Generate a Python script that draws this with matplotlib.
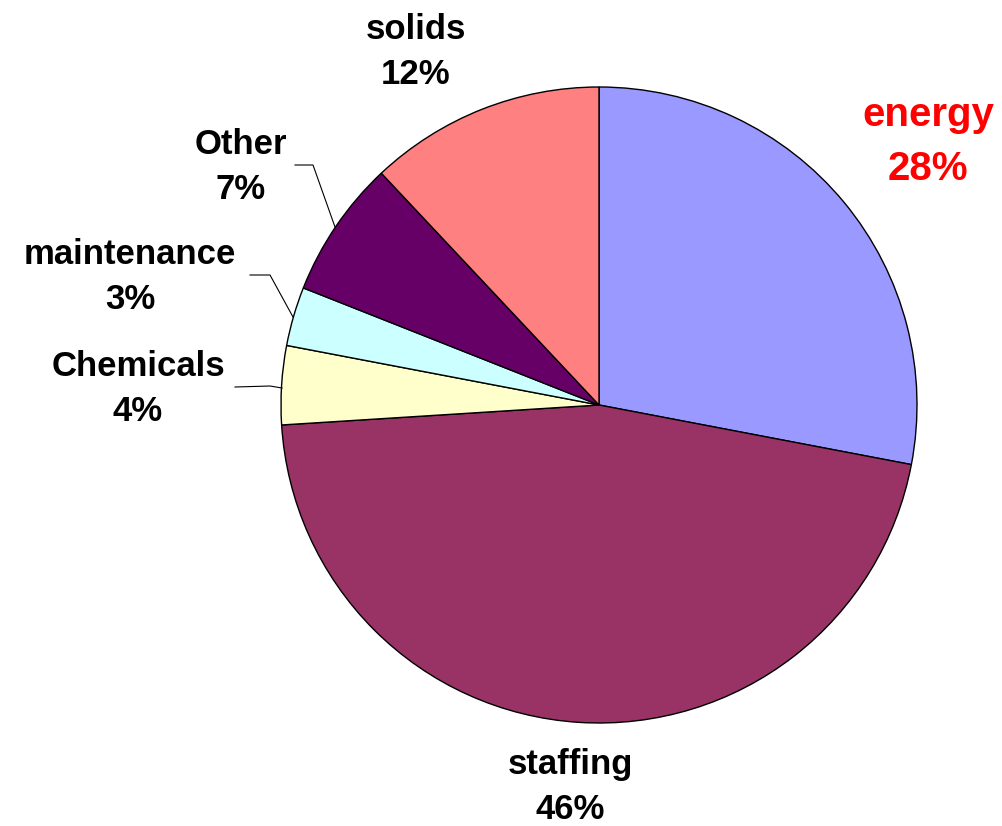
import matplotlib
matplotlib.use('Agg')
import matplotlib.pyplot as plt

# data
labels = ['energy', 'staffing', 'Chemicals', 'maintenance', 'Other', 'solids']
shares = [28, 46, 4, 3, 7, 12]
colors = ['#9999FF', '#993366', '#FFFFCC', '#CCFFFF', '#660066', '#FF8080']

plt.rcParams['font.family'] = ['Liberation Sans', 'DejaVu Sans']

W, H = 1002, 826
fig = plt.figure(figsize=(W / 100, H / 100), dpi=100)
ax = fig.add_axes([0, 0, 1, 1])

# pie, centre and radius in pixel units
ax.pie(shares, colors=colors, startangle=90, counterclock=False,
       center=(599, H - 405), radius=318,
       wedgeprops=dict(edgecolor='black', linewidth=1))

ax.set_xlim(0, W)
ax.set_ylim(0, H)
ax.set_aspect('equal')
ax.axis('off')

# label positions (pixel coords from top-left)
label_pos = {
    'energy': (928, 142),
    'staffing': (570, 787),
    'Chemicals': (138, 389),
    'maintenance': (130, 277),
    'Other': (241, 167),
    'solids': (416, 52),
}
for lab, val in zip(labels, shares):
    x, y = label_pos[lab]
    if lab == 'energy':
        ax.text(x, H - y, f'{lab}\n{val}%', ha='center', va='center',
                fontsize=29, fontweight='bold', color='#FF0000', linespacing=1.5)
    else:
        ax.text(x, H - y, f'{lab}\n{val}%', ha='center', va='center',
                fontsize=25, fontweight='bold', color='black', linespacing=1.43)

# leader lines
leaders = [
    [(295, 165), (313, 165), (335, 227)],
    [(250, 275), (270, 275), (293, 317)],
    [(235, 387), (270, 386), (282, 388)],
]
for pts in leaders:
    ax.plot([p[0] for p in pts], [H - p[1] for p in pts], color='black', lw=0.8)

fig.savefig('out.png', dpi=100)
